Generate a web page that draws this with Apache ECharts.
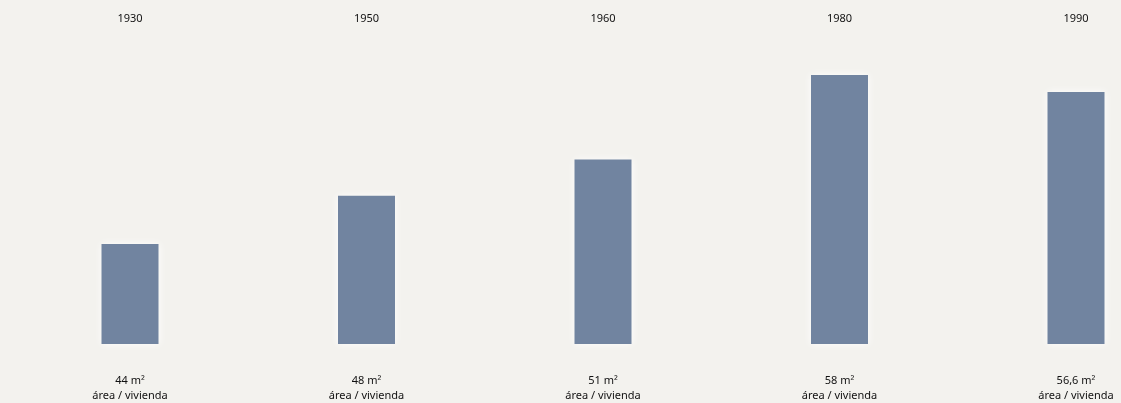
<!DOCTYPE html>
<html><head><meta charset="utf-8">
<script src="https://cdn.jsdelivr.net/npm/echarts@6/dist/echarts.min.js"></script>
<style>html,body{margin:0;padding:0;background:#f3f2ee}#c{width:1121px;height:403px}</style>
</head><body><div id="c"></div>
<script>
const years = ['1930', '1950', '1960', '1980', '1990'];
const areas = [44, 48, 51, 58, 56.6];
const areaLabels = ['44 m²', '48 m²', '51 m²', '58 m²', '56,6 m²'];
const subLabel = 'área / vivienda';

const chart = echarts.init(document.getElementById('c'));
const font = 'Noto Sans';
chart.setOption({
  backgroundColor: '#f3f2ee',
  animation: false,
  grid: { left: 130, right: 45, top: 51, bottom: 59 },
  xAxis: [
    { type: 'category', data: years, position: 'top', boundaryGap: false,
      axisLine: { show: false }, axisTick: { show: false },
      axisLabel: { margin: 27, color: '#111', fontSize: 11, fontFamily: font } },
    { type: 'category', data: areaLabels, position: 'bottom', boundaryGap: false,
      axisLine: { show: false }, axisTick: { show: false },
      axisLabel: { margin: 29, color: '#111', fontSize: 11, fontFamily: font, lineHeight: 15,
        formatter: v => v + '\n' + subLabel } }
  ],
  yAxis: { type: 'value', min: 35.7, max: 60, show: false, splitLine: { show: false } },
  series: [{
    type: 'bar', data: areas, barWidth: 57, xAxisIndex: 0,
    itemStyle: { color: '#7184a0',
      shadowColor: 'rgba(255,255,255,0.95)', shadowBlur: 8 }
  }]
});
</script></body></html>
